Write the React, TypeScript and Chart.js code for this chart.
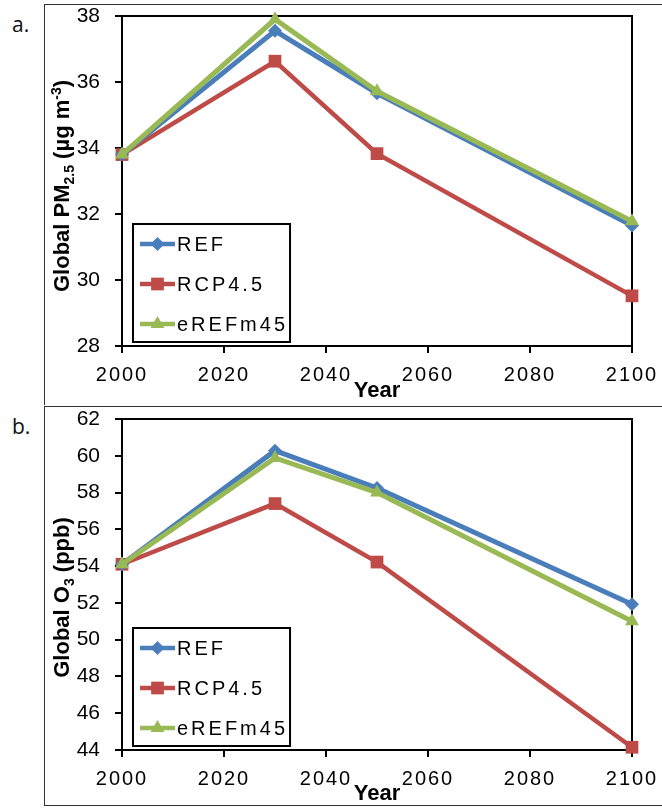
import React, { useEffect, useRef } from "react";
import { Chart, registerables } from "chart.js";

Chart.register(...registerables);

// ---------------- data ----------------
const years = [2000, 2030, 2050, 2100];
const seriesNames = ["REF", "RCP4.5", "eREFm45"];
const seriesColors = ["#4a7ebb", "#be4b48", "#98b954"];

const pmREF = [33.8, 37.55, 35.66, 31.65];
const pmRCP45 = [33.8, 36.63, 33.83, 29.52];
const pmEREFm45 = [33.8, 37.9, 35.72, 31.78];

const o3REF = [54.1, 60.28, 58.25, 51.93];
const o3RCP45 = [54.1, 57.4, 54.22, 44.15];
const o3EREFm45 = [54.1, 59.88, 58.0, 51.0];

const xRange = [2000, 2100];
const xStep = 20;
const pmRange = [28, 38];
const o3Range = [44, 62];
const yStep = 2;

const FONT = '"Liberation Sans", Arial, Helvetica, sans-serif';

type Seg = { t: string; k: "n" | "sub" | "sup" };

const pmTitle: Seg[] = [
  { t: "Global PM", k: "n" },
  { t: "2.5", k: "sub" },
  { t: " (\u00b5g m", k: "n" },
  { t: "-3", k: "sup" },
  { t: ")", k: "n" },
];
const o3Title: Seg[] = [
  { t: "Global O", k: "n" },
  { t: "3", k: "sub" },
  { t: " (ppb)", k: "n" },
];

const pointStyles = ["rectRot", "rect", "triangle"];
const pointRadii = [7, 9, 8];
const lineWidths = [5, 4.5, 5];

// --------------- plugins ---------------
const framePlugin = {
  id: "plotFrame",
  beforeDraw(chart: any) {
    const xs: any = chart.scales.x;
    if (xs && !xs.__ls) {
      const orig = xs.drawLabels;
      xs.drawLabels = function (area: any) {
        const c: any = this.ctx;
        c.save();
        c.letterSpacing = "2px";
        orig.call(this, area);
        c.restore();
      };
      xs.__ls = true;
    }
  },
  beforeDatasetsDraw(chart: any) {
    const { ctx, chartArea: ca } = chart;
    ctx.save();
    ctx.strokeStyle = "#000";
    ctx.lineWidth = 2;
    ctx.strokeRect(ca.left, ca.top, ca.right - ca.left, ca.bottom - ca.top);
    ctx.restore();
  },
};

function drawMarker(ctx: CanvasRenderingContext2D, style: string, r: number, x: number, y: number) {
  ctx.beginPath();
  if (style === "rectRot") {
    ctx.moveTo(x, y - r);
    ctx.lineTo(x + r, y);
    ctx.lineTo(x, y + r);
    ctx.lineTo(x - r, y);
    ctx.closePath();
  } else if (style === "rect") {
    const s = Math.SQRT1_2 * r;
    ctx.rect(x - s, y - s, 2 * s, 2 * s);
  } else {
    const a = -Math.PI / 2;
    for (let i = 0; i < 3; i++) {
      const ang = a + (i * 2 * Math.PI) / 3;
      const px = x + Math.cos(ang) * r;
      const py = y + Math.sin(ang) * r;
      if (i === 0) ctx.moveTo(px, py);
      else ctx.lineTo(px, py);
    }
    ctx.closePath();
  }
  ctx.fill();
}

const boxLegendPlugin = {
  id: "boxLegend",
  afterDatasetsDraw(chart: any) {
    const { ctx, chartArea: ca } = chart;
    const dss = chart.data.datasets;
    ctx.save();
    ctx.font = `20px ${FONT}`;
    (ctx as any).letterSpacing = "3px";
    let tw = 0;
    dss.forEach((d: any) => {
      tw = Math.max(tw, ctx.measureText(d.label).width);
    });
    const padL = 7, sample = 35, gap = 2, padR = 2;
    const w = padL + sample + gap + tw + padR;
    const h = 118;
    const x0 = ca.left + 11;
    const y0 = ca.bottom - 4 - h;
    ctx.fillStyle = "#fff";
    ctx.fillRect(x0, y0, w, h);
    ctx.lineWidth = 2;
    ctx.strokeStyle = "#000";
    ctx.strokeRect(x0, y0, w, h);
    dss.forEach((d: any, i: number) => {
      const cy = y0 + 20 + 40 * i;
      const lx = x0 + padL;
      ctx.strokeStyle = d.borderColor;
      ctx.lineWidth = 4.5;
      ctx.beginPath();
      ctx.moveTo(lx, cy);
      ctx.lineTo(lx + sample, cy);
      ctx.stroke();
      ctx.fillStyle = d.borderColor;
      drawMarker(ctx, d.pointStyle, d.pointRadius, lx + sample / 2, cy);
      ctx.fillStyle = "#000";
      ctx.textBaseline = "middle";
      ctx.textAlign = "left";
      ctx.fillText(d.label, lx + sample + gap, cy + 1);
    });
    ctx.restore();
  },
};

const yTitlePlugin = {
  id: "yTitleRich",
  afterDraw(chart: any, _args: any, opts: any) {
    const segs: Seg[] = opts.segs;
    if (!segs) return;
    const { ctx, chartArea: ca } = chart;
    const big = 22, small = 14;
    const fontOf = (k: string) => `bold ${k === "n" ? big : small}px ${FONT}`;
    ctx.save();
    let total = 0;
    const widths = segs.map((s) => {
      ctx.font = fontOf(s.k);
      const wv = ctx.measureText(s.t).width;
      total += wv;
      return wv;
    });
    ctx.translate(opts.x, (ca.top + ca.bottom) / 2 + opts.offset);
    ctx.rotate(-Math.PI / 2);
    ctx.fillStyle = "#000";
    ctx.textBaseline = "alphabetic";
    ctx.textAlign = "left";
    let x = -total / 2;
    const base = 8;
    segs.forEach((s, i) => {
      ctx.font = fontOf(s.k);
      const dy = s.k === "sub" ? 5 : s.k === "sup" ? -8 : 0;
      ctx.fillText(s.t, x, base + dy);
      x += widths[i];
    });
    ctx.restore();
  },
};

// --------------- chart builder ---------------
type Spec = {
  series: number[][];
  yRange: number[];
  title: Seg[];
  titleOffset: number;
  padTop: number;
  xHeight: number;
  yearPad: number;
};

function build(canvas: HTMLCanvasElement, spec: Spec) {
  const orders = [1, 2, 0];
  const datasets = spec.series.map((vals, i) => ({
    label: seriesNames[i],
    data: years.map((x, j) => ({ x, y: vals[j] })),
    borderColor: seriesColors[i],
    backgroundColor: seriesColors[i],
    pointBackgroundColor: seriesColors[i],
    pointBorderColor: seriesColors[i],
    pointBorderWidth: 0,
    borderWidth: lineWidths[i],
    pointStyle: pointStyles[i],
    pointRadius: pointRadii[i],
    tension: 0,
    clip: false as any,
    order: orders[i],
  }));
  return new Chart(canvas, {
    type: "line",
    data: { datasets },
    plugins: [framePlugin, boxLegendPlugin, yTitlePlugin],
    options: {
      animation: false,
      responsive: false,
      events: [],
      layout: { padding: { top: spec.padTop, right: 30, left: 0, bottom: 0 } },
      plugins: {
        legend: { display: false },
        tooltip: { enabled: false },
        yTitleRich: { segs: spec.title, x: 17, offset: spec.titleOffset },
      } as any,
      scales: {
        x: {
          type: "linear",
          min: xRange[0],
          max: xRange[1],
          grid: {
            display: true,
            drawOnChartArea: false,
            drawTicks: true,
            tickLength: 7,
            color: "#000",
            lineWidth: 2,
          },
          border: { display: true, color: "#000", width: 2 },
          ticks: {
            stepSize: xStep,
            color: "#000",
            font: { size: 20, family: FONT },
            padding: 10,
            maxRotation: 0,
            callback: (v: any) => String(v),
          },
          title: {
            display: true,
            text: "Year",
            color: "#000",
            font: { size: 22, weight: "bold", family: FONT },
            padding: { top: 0, bottom: spec.yearPad },
          },
          afterFit: (s: any) => {
            s.height = spec.xHeight;
            s.paddingLeft = 0;
            s.paddingRight = 0;
          },
        },
        y: {
          type: "linear",
          min: spec.yRange[0],
          max: spec.yRange[1],
          grid: {
            display: true,
            drawOnChartArea: false,
            drawTicks: true,
            tickLength: 7,
            color: "#000",
            lineWidth: 2,
          },
          border: { display: true, color: "#000", width: 2 },
          ticks: {
            stepSize: yStep,
            color: "#000",
            font: { size: 21, family: FONT },
            padding: 15,
            callback: (v: any) => String(v),
          },
          afterFit: (s: any) => {
            s.width = 78;
            s.paddingTop = 0;
            s.paddingBottom = 0;
          },
        },
      },
    } as any,
  });
}

function Panel(props: { spec: Spec; top: number; height: number; label: string; bottomBorder?: boolean }) {
  const ref = useRef<HTMLCanvasElement | null>(null);
  useEffect(() => {
    if (!ref.current) return;
    const ch = build(ref.current, props.spec);
    return () => ch.destroy();
  }, []);
  const { top, height, label, bottomBorder } = props;
  return (
    <>
      <div
        style={{
          position: "absolute",
          left: 44,
          top,
          width: 618,
          height: height - 1,
          borderTop: "1.5px solid #333",
          borderLeft: "1.5px solid #333",
          borderBottom: bottomBorder ? "1.5px solid #333" : "none",
          boxSizing: "border-box",
        }}
      />
      <canvas
        ref={ref}
        width={618}
        height={height}
        style={{ position: "absolute", left: 44, top, width: 618, height }}
      />
      <div
        style={{
          position: "absolute",
          left: 12,
          top: top + 8,
          fontFamily: '"Open Sans", sans-serif',
          fontSize: 21,
          lineHeight: "24px",
          color: "#111",
        }}
      >
        {label}
      </div>
    </>
  );
}

const specA: Spec = {
  series: [pmREF, pmRCP45, pmEREFm45],
  yRange: pmRange,
  title: pmTitle,
  titleOffset: 5,
  padTop: 12,
  xHeight: 60,
  yearPad: 2,
};

const specB: Spec = {
  series: [o3REF, o3RCP45, o3EREFm45],
  yRange: o3Range,
  title: o3Title,
  titleOffset: 13,
  padTop: 13,
  xHeight: 57,
  yearPad: 0,
};

export default function App() {
  return (
    <div style={{ position: "absolute", left: 0, top: 0, width: 662, height: 808, background: "#fff", overflow: "hidden" }}>
      <Panel spec={specA} top={4} height={402} label="a." />
      <Panel spec={specB} top={406} height={401} label="b." bottomBorder />
    </div>
  );
}
